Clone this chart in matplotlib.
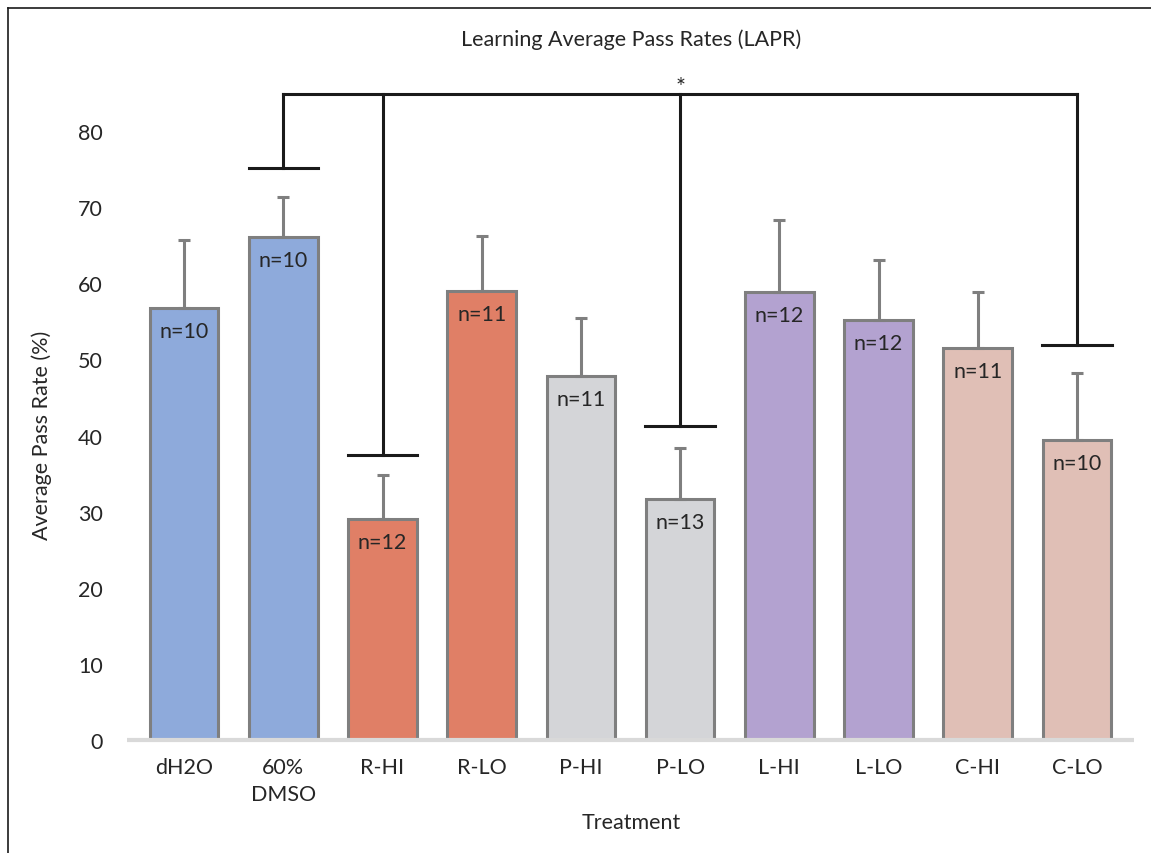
import matplotlib
matplotlib.use("Agg")
import matplotlib.pyplot as plt
from matplotlib.lines import Line2D

plt.rcParams['font.family'] = ['Lato', 'DejaVu Sans']

categories = ["dH2O", "60%\nDMSO", "R-HI", "R-LO", "P-HI", "P-LO", "L-HI", "L-LO", "C-HI", "C-LO"]
means = [56.8, 66.1, 29.0, 59.0, 47.8, 31.7, 58.9, 55.2, 51.5, 39.4]
errors = [8.9, 5.3, 5.8, 7.2, 7.7, 6.7, 9.4, 7.9, 7.4, 8.8]
n_labels = ["n=10", "n=10", "n=12", "n=11", "n=11", "n=13", "n=12", "n=12", "n=11", "n=10"]
colors = ["#8eaadb", "#8eaadb", "#e07f66", "#e07f66", "#d4d5d8", "#d4d5d8",
          "#b3a2d0", "#b3a2d0", "#e0bfb6", "#e0bfb6"]

# significance bracket
bracket_top = 84.9
bracket_idx = [1, 2, 5, 9]
bracket_ends = [75.2, 37.5, 41.3, 51.9]

FS = 15.5
W, H = 1151, 854
fig = plt.figure(figsize=(W/100, H/100), dpi=100)
ax = fig.add_axes([134.5/W, (H-741)/H, (1126.5-134.5)/W, (741-56)/H])
x = list(range(len(categories)))
ax.bar(x, means, width=0.69, color=colors, edgecolor="#7f7f7f", linewidth=2.2, zorder=2)
ax.errorbar(x, means, yerr=[[0]*len(errors), errors], fmt="none", ecolor="#7f7f7f",
            elinewidth=2.2, capsize=4.3, capthick=2.2, zorder=3)
for xi, m, lab in zip(x, means, n_labels):
    ax.annotate(lab, (xi, m), xytext=(0, -23), textcoords="offset pixels",
                ha="center", va="center", fontsize=FS, color="#262626", zorder=4)

ax.set_xlim(-0.5, 9.5)
ax.set_ylim(0, 90)
ax.set_yticks(range(0, 90, 10))
ax.set_xticks(x)
ax.set_xticklabels(categories, fontsize=FS, color="#262626", linespacing=1.45)
ax.tick_params(axis="both", length=0, labelsize=FS, labelcolor="#262626")
ax.tick_params(axis="y", pad=23)
ax.tick_params(axis="x", pad=12)
for s in ["top", "right", "left", "bottom"]:
    ax.spines[s].set_visible(False)
ax.plot([-0.58, 9.58], [0, 0], color="#d9d9d9", lw=3, zorder=5, clip_on=False,
        solid_capstyle="butt")

# bracket
ax.plot([bracket_idx[0], bracket_idx[-1]], [bracket_top, bracket_top], color="#1a1a1a", lw=2.2, zorder=6, clip_on=False)
for bi, be in zip(bracket_idx, bracket_ends):
    ax.plot([bi, bi], [be, bracket_top], color="#1a1a1a", lw=2.2, zorder=6, clip_on=False)
    ax.plot([bi-0.35, bi+0.35], [be, be], color="#1a1a1a", lw=2.2, zorder=6, clip_on=False)
ax.annotate("*", (5, bracket_top), xytext=(0, 7), textcoords="offset pixels",
            ha="center", va="center", fontsize=17, color="#262626")

fig.text(631/W, 1-40/H, "Learning Average Pass Rates (LAPR)", ha="center", va="center",
         fontsize=FS, color="#262626")
fig.text(42/W, 1-435/H, "Average Pass Rate (%)", rotation=90, ha="center", va="center",
         fontsize=FS, color="#262626")
fig.text(631/W, 1-823/H, "Treatment", ha="center", va="center", fontsize=FS, color="#262626")

# frame lines (left and top)
fig.add_artist(Line2D([8/W, 8/W], [0, 1-9/H], transform=fig.transFigure, color="#1a1a1a", lw=1.2))
fig.add_artist(Line2D([8/W, 1], [1-9/H, 1-9/H], transform=fig.transFigure, color="#1a1a1a", lw=1.2))

fig.savefig("out.png", dpi=100)
